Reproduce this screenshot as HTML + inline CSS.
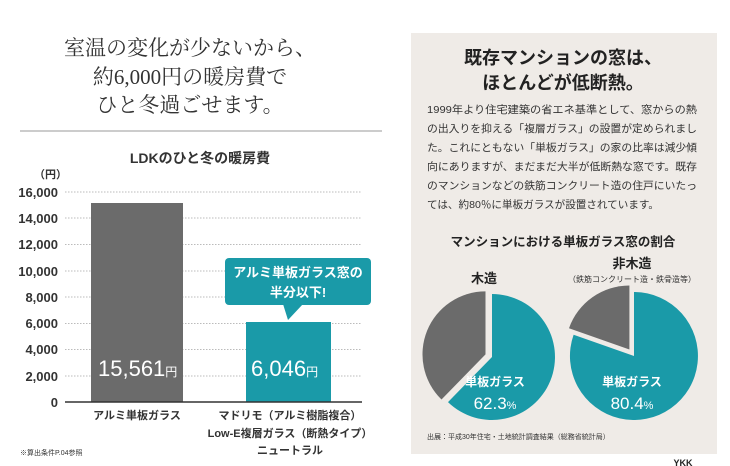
<!DOCTYPE html>
<html><head><meta charset="utf-8"><style>
html,body{margin:0;padding:0;background:#fff;}
svg{display:block;font-family:"Liberation Sans","Noto Sans CJK JP",sans-serif;}
</style></head><body>
<svg width="730" height="466" viewBox="0 0 730 466" xmlns="http://www.w3.org/2000/svg">
<rect x="0" y="0" width="730" height="466" fill="#fff"/>
<g font-family="'Liberation Serif','Noto Serif CJK SC',serif" font-size="21" fill="#333" text-anchor="middle">
<text x="190" y="55">室温の変化が少ないから、</text>
<text x="190" y="84">約6,000円の暖房費で</text>
<text x="190" y="112">ひと冬過ごせます。</text>
</g>
<line x1="20" y1="131" x2="382" y2="131" stroke="#999" stroke-width="1"/>
<text x="200" y="163" font-size="14" font-weight="bold" fill="#333" text-anchor="middle">LDKのひと冬の暖房費</text>
<text x="34" y="178" font-size="11" font-weight="bold" fill="#333">（円）</text>
<g stroke="#bbb" stroke-width="1" stroke-dasharray="1.5,1.5">
<line x1="65" y1="192" x2="362" y2="192"/><line x1="65" y1="218" x2="362" y2="218"/>
<line x1="65" y1="244.5" x2="362" y2="244.5"/><line x1="65" y1="271" x2="362" y2="271"/>
<line x1="65" y1="297" x2="362" y2="297"/><line x1="65" y1="323.5" x2="362" y2="323.5"/>
<line x1="65" y1="349.5" x2="362" y2="349.5"/><line x1="65" y1="376" x2="362" y2="376"/>
</g>
<g font-size="13" font-weight="bold" fill="#333" text-anchor="end">
<text x="58" y="197">16,000</text><text x="58" y="223">14,000</text><text x="58" y="249">12,000</text>
<text x="58" y="276">10,000</text><text x="58" y="302">8,000</text><text x="58" y="328">6,000</text>
<text x="58" y="354">4,000</text><text x="58" y="381">2,000</text><text x="58" y="407">0</text>
</g>
<rect x="91" y="203" width="92" height="199" fill="#6b6b6b"/>
<rect x="246" y="322" width="85" height="80" fill="#1a9aa8"/>
<line x1="65" y1="402" x2="362" y2="402" stroke="#333" stroke-width="1.5"/>
<text x="98" y="376" font-size="22" fill="#fff">15,561<tspan font-size="12">円</tspan></text>
<text x="251" y="376" font-size="22" fill="#fff">6,046<tspan font-size="12">円</tspan></text>
<rect x="225" y="258" width="146" height="47" rx="4" fill="#1a9aa8"/>
<path d="M283,304 L288,320 L303,304 Z" fill="#1a9aa8"/>
<text x="298" y="277" font-size="13" font-weight="bold" fill="#fff" text-anchor="middle">アルミ単板ガラス窓の</text>
<text x="298" y="297" font-size="13" font-weight="bold" fill="#fff" text-anchor="middle">半分以下!</text>
<g font-size="11" font-weight="bold" fill="#333" text-anchor="middle">
<text x="137" y="419">アルミ単板ガラス</text>
<text x="290" y="419">マドリモ（アルミ樹脂複合）</text>
<text x="290" y="437">Low-E複層ガラス（断熱タイプ）</text>
<text x="290" y="454">ニュートラル</text>
</g>
<text x="20" y="455" font-size="7" fill="#333">※算出条件P.04参照</text>

<rect x="411" y="33" width="306" height="421" fill="#efebe7"/>
<text x="563" y="64" font-size="18" font-weight="bold" fill="#222" text-anchor="middle">既存マンションの窓は、</text>
<text x="563" y="89" font-size="18" font-weight="bold" fill="#222" text-anchor="middle">ほとんどが低断熱。</text>
<g font-size="10.5" fill="#333">
<text x="427" y="113" textLength="270" lengthAdjust="spacingAndGlyphs">1999年より住宅建築の省エネ基準として、窓からの熱</text>
<text x="427" y="132" textLength="270" lengthAdjust="spacingAndGlyphs">の出入りを抑える「複層ガラス」の設置が定められまし</text>
<text x="427" y="151" textLength="270" lengthAdjust="spacingAndGlyphs">た。これにともない「単板ガラス」の家の比率は減少傾</text>
<text x="427" y="170" textLength="270" lengthAdjust="spacingAndGlyphs">向にありますが、まだまだ大半が低断熱な窓です。既存</text>
<text x="427" y="189" textLength="270" lengthAdjust="spacingAndGlyphs">のマンションなどの鉄筋コンクリート造の住戸にいたっ</text>
<text x="427" y="208" textLength="232" lengthAdjust="spacingAndGlyphs">ては、約80％に単板ガラスが設置されています。</text>
</g>
<text x="563" y="246" font-size="12.5" font-weight="bold" fill="#222" text-anchor="middle">マンションにおける単板ガラス窓の割合</text>
<text x="484" y="283" font-size="13" font-weight="bold" fill="#222" text-anchor="middle">木造</text>
<text x="632" y="268" font-size="13" font-weight="bold" fill="#222" text-anchor="middle">非木造</text>
<text x="632" y="282" font-size="8" fill="#333" text-anchor="middle">（鉄筋コンクリート造・鉄骨造等）</text>
<path d="M485.5,354.4 L441.5,399.5 A63 63 0 0 1 485.5,291.4 Z" fill="#6b6b6b"/>
<path d="M492,357 L492,294 A63 63 0 1 1 448,402.1 Z" fill="#1a9aa8"/>
<path d="M629.4,349.5 L569,328.2 A64 64 0 0 1 629.4,285.5 Z" fill="#6b6b6b"/>
<path d="M634,356 L634,292 A64 64 0 1 1 573.6,334.7 Z" fill="#1a9aa8"/>
<text x="495" y="386" font-size="12" font-weight="bold" fill="#fff" text-anchor="middle">単板ガラス</text>
<text x="495" y="409" font-size="17" fill="#fff" text-anchor="middle">62.3<tspan font-size="11">%</tspan></text>
<text x="632" y="386" font-size="12" font-weight="bold" fill="#fff" text-anchor="middle">単板ガラス</text>
<text x="632" y="409" font-size="17" fill="#fff" text-anchor="middle">80.4<tspan font-size="11">%</tspan></text>
<text x="427" y="439" font-size="7" fill="#333">出展：平成30年住宅・土地統計調査結果（総務省統計局）</text>
<text x="683" y="466" font-size="9" font-weight="bold" fill="#222" text-anchor="middle">YKK</text>
</svg>
</body></html>
